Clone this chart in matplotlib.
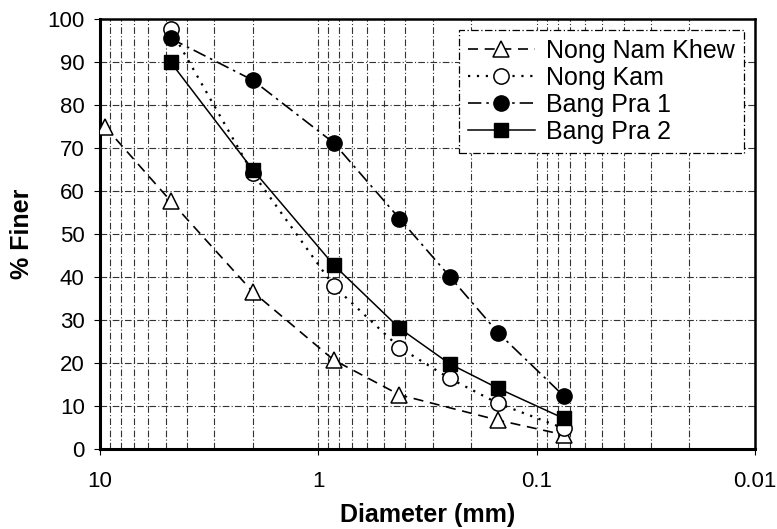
import matplotlib
matplotlib.use("Agg")
import matplotlib.pyplot as plt
from matplotlib.ticker import FixedLocator, FixedFormatter, LogLocator, NullFormatter

plt.rcParams['font.family'] = ['Liberation Sans', 'DejaVu Sans']

# Data
d_nnk = [9.5, 4.75, 2.0, 0.85, 0.425, 0.15, 0.075]
nnk = [75.0, 57.7, 36.6, 20.7, 12.6, 6.7, 3.3]

d_all = [4.75, 2.0, 0.85, 0.425, 0.25, 0.15, 0.075]
nong_kam = [97.6, 64.2, 37.9, 23.6, 16.4, 10.6, 4.8]
bang_pra1 = [95.5, 85.8, 71.2, 53.6, 40.1, 27.0, 12.3]
bang_pra2 = [90.0, 65.0, 42.8, 28.1, 19.8, 14.1, 7.1]

xticks = [10, 1, 0.1, 0.01]
xticklabels = ['10', '1', '0.1', '0.01']
yticks = list(range(0, 101, 10))

fig = plt.figure(figsize=(7.77, 5.29), dpi=100)
ax = fig.add_axes([0.1287, 0.1512, 0.8430, 0.8128])

ax.plot(d_nnk, nnk, linestyle=(0, (6, 4)), color='black', lw=1.2,
        marker='^', markersize=12, markerfacecolor='white', markeredgecolor='black',
        markeredgewidth=1.1, label='Nong Nam Khew', zorder=3)
ax.plot(d_all, nong_kam, linestyle=(0, (1, 3)), color='black', lw=1.6,
        marker='o', markersize=11, markerfacecolor='white', markeredgecolor='black',
        markeredgewidth=1.1, label='Nong Kam', zorder=3)
ax.plot(d_all, bang_pra1, linestyle=(0, (8, 3, 1.5, 3)), color='black', lw=1.2,
        marker='o', markersize=11, markerfacecolor='black', markeredgecolor='black',
        label='Bang Pra 1', zorder=3)
ax.plot(d_all, bang_pra2, linestyle='-', color='black', lw=1.1,
        marker='s', markersize=10, markerfacecolor='black', markeredgecolor='black',
        label='Bang Pra 2', zorder=4)

ax.set_xscale('log')
ax.set_xlim(10, 0.01)
ax.set_ylim(0, 100)

ax.xaxis.set_major_locator(FixedLocator(xticks))
ax.xaxis.set_major_formatter(FixedFormatter(xticklabels))
ax.xaxis.set_minor_locator(LogLocator(base=10, subs=range(2, 10)))
ax.xaxis.set_minor_formatter(NullFormatter())
ax.set_yticks(yticks)

ax.grid(True, which='both', axis='x', color='#333333', linestyle=(0, (6, 2, 1, 2)), lw=0.8)
ax.grid(True, which='major', axis='y', color='#333333', linestyle=(0, (6, 2, 1, 2)), lw=0.8)
ax.set_axisbelow(True)

ax.tick_params(axis='both', which='major', labelsize=16, length=4, direction='out', pad=7)
ax.tick_params(axis='x', which='minor', length=0)
ax.tick_params(axis='x', which='major', pad=12)

for s in ['left', 'bottom']:
    ax.spines[s].set_linewidth(2.2)
for s in ['right', 'top']:
    ax.spines[s].set_linewidth(1.8)

ax.set_xlabel('Diameter (mm)', fontsize=18, fontweight='bold', labelpad=8)
ax.set_ylabel('% Finer', fontsize=18, fontweight='bold', labelpad=10)

leg = ax.legend(loc='upper right', fontsize=18, frameon=True, fancybox=False,
                borderaxespad=0.45, handlelength=2.7, handletextpad=0.45,
                labelspacing=0.12, borderpad=0.35)
fr = leg.get_frame()
fr.set_edgecolor('black')
fr.set_linestyle((0, (6, 2, 1, 2)))
fr.set_linewidth(0.9)
fr.set_facecolor('white')
fr.set_alpha(1)

fig.savefig('out.png', dpi=100)
